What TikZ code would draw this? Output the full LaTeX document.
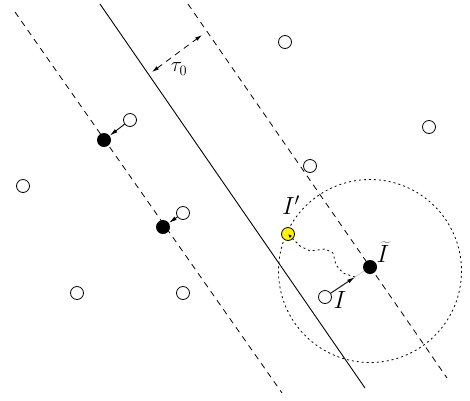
\documentclass[tikz,border=0pt]{standalone}
\usetikzlibrary{arrows.meta}
\begin{document}
\begin{tikzpicture}[x=1pt,y=-1pt,
  opendot/.style={circle,draw,line width=0.8pt,fill=white,inner sep=0pt,minimum size=13pt},
  filldot/.style={circle,fill=black,inner sep=0pt,minimum size=14pt},
  yeldot/.style={circle,draw,line width=0.8pt,fill=yellow,inner sep=0pt,minimum size=13pt},
  margin/.style={line width=0.8pt,dash pattern=on 6pt off 5pt},
  hyper/.style={line width=0.9pt},
  dotline/.style={line width=0.8pt,dash pattern=on 2pt off 3pt},
  move/.style={line width=0.9pt,-{Latex[length=8pt,width=4pt]}},
  lab/.style={font=\fontsize{26}{28}\selectfont,inner sep=0pt}]
\useasboundingbox (0,0) rectangle (470,400);
% lines
\coordinate (s1) at (100,4); \coordinate (s2) at (365,388);
\coordinate (l1) at (15,12); \coordinate (l2) at (282,393);
\coordinate (r1) at (188,4); \coordinate (r2) at (447,378);
\draw[hyper] (s1) -- (s2);
\draw[margin] (l1) -- (l2);
\draw[margin] (r1) -- (r2);
% tau arrow
\coordinate (ta) at (152,72); \coordinate (tb) at (202,35);
\draw[margin,{Latex[length=7pt,width=4pt]}-{Latex[length=7pt,width=4pt]}] (ta) -- (tb);
\node[font=\fontsize{22}{24}\selectfont,inner sep=0pt] (tau) at (179,69) {$\tau_0$};
% dotted circle
\coordinate (cc) at (370,271);
\draw[dotline] (cc) circle[radius=91.5];
% open points
\node[opendot] (p1) at (285,42) {};
\node[opendot] (p2) at (429,127) {};
\node[opendot] (p3) at (310,166) {};
\node[opendot] (p4) at (23,186) {};
\node[opendot] (p5) at (130,120) {};
\node[opendot] (p6) at (183,213) {};
\node[opendot] (p7) at (77,293) {};
\node[opendot] (p8) at (183,293) {};
\node[opendot] (pI) at (325,297) {};
% filled points
\node[filldot] (f1) at (104,140) {};
\node[filldot] (f2) at (163,227) {};
\node[filldot] (fI) at (370,267) {};
% moves
\draw[move] (p5) -- (f1);
\draw[move] (p6) -- (f2);
\coordinate (tipI) at (355,277);
\draw[move] (pI) -- (tipI);
\draw[line width=0.9pt,black!20] (tipI) -- (fI);
% yellow point and path
\node[yeldot] (yI) at (288,234) {};
\draw[dotline,-{Latex[length=4pt,width=3pt]}] (tipI) -- (343,273) -- (336,265) -- (333,253) -- (325,249) -- (310,251) -- (300,246) -- (yI.center);
% labels
\node[lab] (lIp) at (291,205) {$I'$};
\node[lab] (lIt) at (383,252) {$\widetilde{I}$};
\node[lab] (lI) at (340,300) {$I$};
\end{tikzpicture}
\end{document}
